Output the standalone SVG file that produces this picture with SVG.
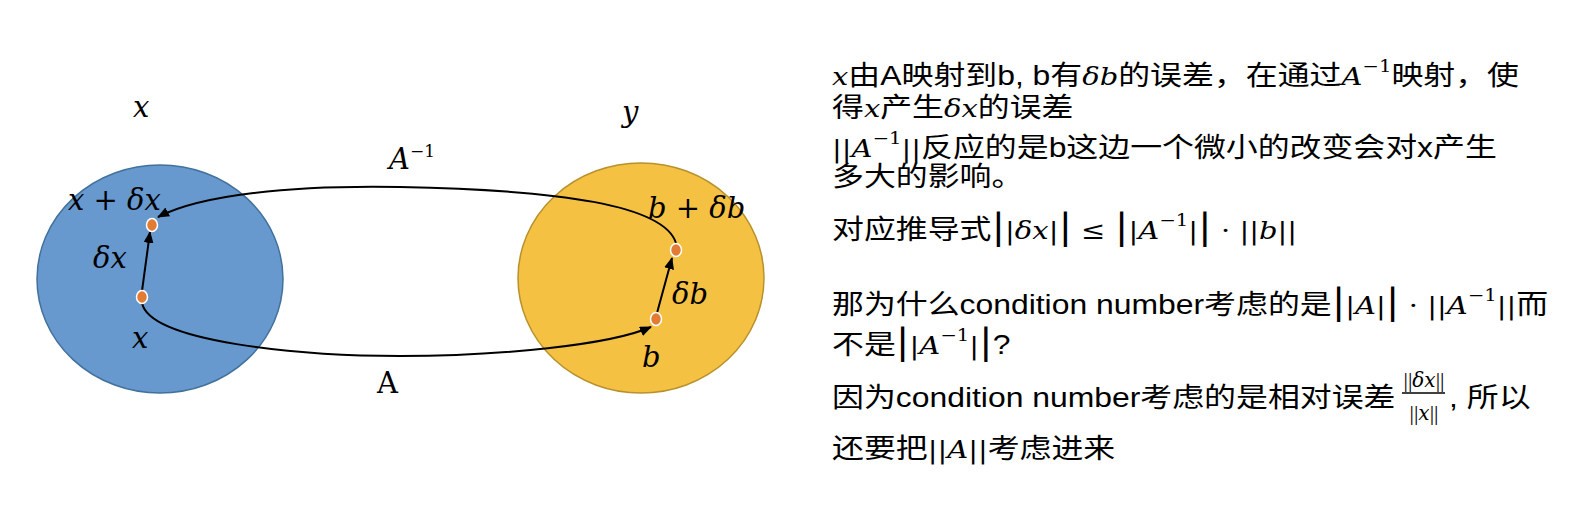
<svg xmlns="http://www.w3.org/2000/svg" width="1594" height="520" viewBox="0 0 1594 520">
<style>
 .t{font-family:"Liberation Sans","Noto Sans CJK SC",sans-serif;font-size:27.5px;fill:#000}
 .m{font-family:"DejaVu Serif","Liberation Serif",serif;font-style:italic;font-size:25px}
 .u{font-family:"DejaVu Serif","Liberation Serif",serif;font-style:normal;font-size:25px}
 .sup{font-family:"DejaVu Serif","Liberation Serif",serif;font-style:normal;font-size:17px}
 .big{font-family:"DejaVu Serif","Liberation Serif",serif;font-style:normal;font-size:35px}
 .fr{font-family:"Liberation Serif","DejaVu Serif",serif;font-style:normal;font-size:22px;fill:#000}
 .fm{font-family:"DejaVu Serif","Liberation Serif",serif;font-style:italic;font-size:20px}
 .lbl{font-family:"DejaVu Serif","Liberation Serif",serif;font-style:italic;font-size:29px;fill:#000}
 .lblA{font-family:"DejaVu Serif","Liberation Serif",serif;font-style:normal;font-size:29px;fill:#000}
 .dot{fill:#E27B34;stroke:#fff;stroke-width:1.5}
 .edge{fill:none;stroke:#000;stroke-width:2}
</style>
<defs>
 <marker id="arr" markerUnits="userSpaceOnUse" markerWidth="12" markerHeight="10" refX="11" refY="5" orient="auto">
  <path d="M0,0 L12,5 L0,10 Z" fill="#000"/>
 </marker>
</defs>
<rect width="1594" height="520" fill="#fff"/>

<g id="set-x"><ellipse cx="160" cy="279" rx="123" ry="114" fill="#6799CE" stroke="#41719C" stroke-width="1.5"/></g>
<g id="set-y"><ellipse cx="641" cy="278" rx="123" ry="115" fill="#F4C143" stroke="#B8912C" stroke-width="1.5"/></g>

<g id="connectors">
 <path id="edge-A" class="edge" d="M142,303 C150,342 300,356 400,356 C500,356 610,345 651,327" marker-end="url(#arr)"/>
 <path id="edge-Ainv" class="edge" d="M676,243 C664,205 560,190 400,187 C290,185 200,195 158,217" marker-end="url(#arr)"/>
 <path id="edge-dx" class="edge" d="M142,291 L150,232" marker-end="url(#arr)"/>
 <path id="edge-db" class="edge" d="M657,313 L672,258" marker-end="url(#arr)"/>
</g>

<g id="node-x"><ellipse class="dot" cx="142" cy="297" rx="5.5" ry="6.5"/></g>
<g id="node-xdx"><ellipse class="dot" cx="152" cy="225" rx="5.5" ry="6.5"/></g>
<g id="node-b"><ellipse class="dot" cx="656" cy="319" rx="5.5" ry="6.5"/></g>
<g id="node-bdb"><ellipse class="dot" cx="676" cy="250" rx="5.5" ry="6.5"/></g>

<g id="labels">
 <text class="lbl" x="133" y="117">x</text>
 <text class="lbl" x="622" y="122">y</text>
 <text class="lbl" x="389" y="169">A<tspan class="sup" dy="-12">−1</tspan></text>
 <text class="lbl" x="68" y="210">x + δx</text>
 <text class="lbl" x="93" y="268">δx</text>
 <text class="lbl" x="132" y="348">x</text>
 <text class="lbl" x="648" y="218">b + δb</text>
 <text class="lbl" x="672" y="304">δb</text>
 <text class="lbl" x="642" y="367">b</text>
 <text class="lblA" x="377" y="393">A</text>
</g>

<g id="notes">
 <g transform="matrix(1.16,0,0,1,-133.12,0)">
  <text class="t" x="832" y="85"><tspan class="m">x</tspan>由A映射到b, b有<tspan class="m">δb</tspan>的误差，在通过<tspan class="m">A</tspan><tspan class="sup" dy="-13">−1</tspan><tspan dy="13">映射，使</tspan></text>
  <text class="t" x="832" y="117">得<tspan class="m">x</tspan>产生<tspan class="m">δx</tspan>的误差</text>
  <text class="t" x="832" y="157"><tspan class="u">||</tspan><tspan class="m">A</tspan><tspan class="sup" dy="-13">−1</tspan><tspan class="u" dy="13">||</tspan>反应的是b这边一个微小的改变会对x产生</text>
  <text class="t" x="832" y="186">多大的影响。</text>
  <text class="t" x="832" y="239">对应推导式<tspan class="big">|</tspan><tspan class="u">|</tspan><tspan class="m">δx</tspan><tspan class="u">|</tspan><tspan class="big">|</tspan><tspan class="u"> ≤ </tspan><tspan class="big">|</tspan><tspan class="u">|</tspan><tspan class="m">A</tspan><tspan class="sup" dy="-13">−1</tspan><tspan class="u" dy="13">|</tspan><tspan class="big">|</tspan><tspan class="u"> · ||</tspan><tspan class="m">b</tspan><tspan class="u">||</tspan></text>
  <text class="t" x="832" y="314">那为什么condition number考虑的是<tspan class="big">|</tspan><tspan class="u">|</tspan><tspan class="m">A</tspan><tspan class="u">|</tspan><tspan class="big">|</tspan><tspan class="u"> · ||</tspan><tspan class="m">A</tspan><tspan class="sup" dy="-13">−1</tspan><tspan class="u" dy="13">||</tspan>而</text>
  <text class="t" x="832" y="354">不是<tspan class="big">|</tspan><tspan class="u">|</tspan><tspan class="m">A</tspan><tspan class="sup" dy="-13">−1</tspan><tspan class="u" dy="13">|</tspan><tspan class="big">|</tspan>?</text>
  <text class="t" x="832" y="407">因为condition number考虑的是相对误差</text>
  <text class="t" x="1364" y="407">, 所以</text>
  <text class="t" x="832" y="458">还要把<tspan class="u">||</tspan><tspan class="m">A</tspan><tspan class="u">||</tspan>考虑进来</text>
 </g>
 <text class="fr" x="1424" y="387" text-anchor="middle">||<tspan class="fm">δx</tspan>||</text>
 <line x1="1402" y1="393" x2="1445" y2="393" stroke="#000" stroke-width="1.5"/>
 <text class="fr" x="1424" y="420" text-anchor="middle">||<tspan class="fm">x</tspan>||</text>
</g>
</svg>
